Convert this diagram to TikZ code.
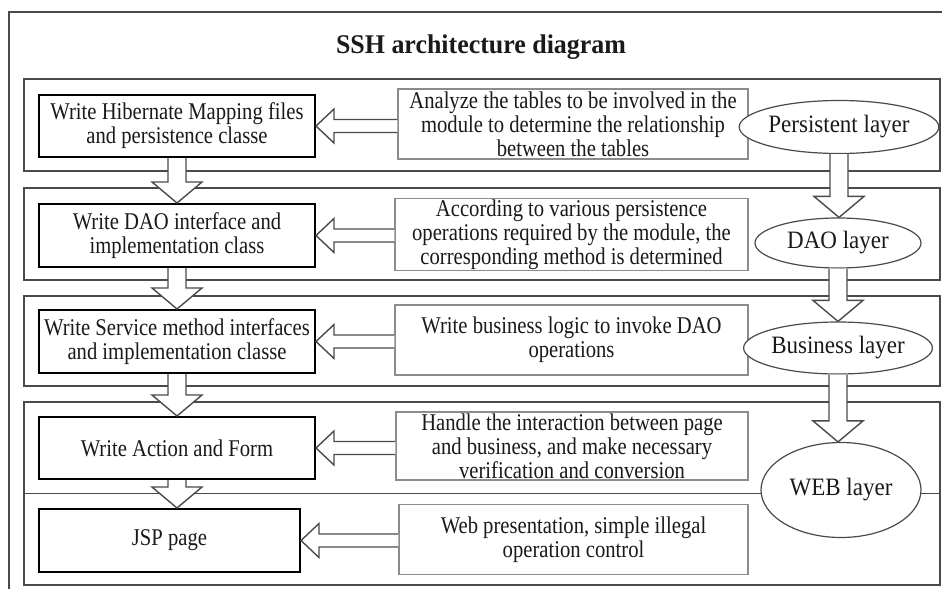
\documentclass[tikz,border=0pt]{standalone}
\usepackage{fontspec}
\setmainfont{Liberation Serif}
\newfontfamily\bodyserif[FakeStretch=0.86]{Liberation Serif}
\newfontfamily\layerserif[FakeStretch=0.92]{Liberation Serif}
\newfontfamily\titleserif[FakeStretch=0.96]{Liberation Serif}
\usetikzlibrary{calc,shapes.geometric}

\definecolor{bandline}{HTML}{4A4A4A}
\definecolor{noteline}{HTML}{8C8C8C}
\definecolor{inktext}{HTML}{1A1A1A}

\tikzset{
  bandbox/.style={draw=bandline, line width=1.6pt, minimum width=916pt, inner sep=0pt},
  stepbox/.style={draw=black, line width=2pt, fill=white, align=center, inner sep=1pt,
    text=inktext, font=\bodyserif\fontsize{24}{24}\selectfont},
  notebox/.style={draw=noteline, line width=1.1pt, fill=white, align=center, inner sep=1pt,
    minimum height=70pt, text=inktext, font=\bodyserif\fontsize{24}{24}\selectfont},
  layer/.style={ellipse, draw=bandline, line width=1.2pt, fill=white, inner sep=0pt,
    text=inktext, font=\layerserif\fontsize{25}{26}\selectfont},
  fatarrow/.style={draw=bandline, line width=1.4pt, fill=white, line join=miter},
}

% hollow block arrow pointing down, from anchor #1 to anchor #2
\newcommand\vfat[2]{%
  \draw[fatarrow] let \p1=(#1), \p2=(#2) in
    (\x1-9pt,\y1) -- (\x1-9pt,\y2+21pt) -- (\x1-25pt,\y2+21pt) -- (\x1,\y2)
    -- (\x1+25pt,\y2+21pt) -- (\x1+9pt,\y2+21pt) -- (\x1+9pt,\y1);}
% hollow block arrow pointing left, from anchor #1 to anchor #2
\newcommand\hfat[2]{%
  \draw[fatarrow] let \p1=(#1), \p2=(#2) in
    (\x1,\y2+6.5pt) -- (\x2+18pt,\y2+6.5pt) -- (\x2+18pt,\y2+17pt) -- (\x2,\y2)
    -- (\x2+18pt,\y2-17pt) -- (\x2+18pt,\y2-6.5pt) -- (\x1,\y2-6.5pt);}

\begin{document}
\begin{tikzpicture}[x=1pt,y=-1pt]
\useasboundingbox (0,0) rectangle (942,589);

% outer frame
\draw[draw=bandline, line width=1.6pt] (942,12) -- (9,12) -- (9,589);

\node[anchor=base, text=inktext, font=\titleserif\bfseries\fontsize{27}{30}\selectfont]
  (title) at (481,53) {SSH architecture diagram};

% layer bands
\node[bandbox, minimum height=92pt] (L1) at (482,125) {};
\node[bandbox, minimum height=92pt] (L2) at (482,234) {};
\node[bandbox, minimum height=90pt] (L3) at (482,341) {};
\node[bandbox, minimum height=183pt] (L4) at (482,493.5) {};
\draw[draw=bandline, line width=1.6pt] (L4.west) -- (L4.east);

% development steps
\node[stepbox, minimum width=276pt, minimum height=62pt] (A1) at (177,126)
  {Write Hibernate Mapping files\\and persistence classe};
\node[stepbox, minimum width=276pt, minimum height=63pt] (A2) at (177,235.5)
  {Write DAO interface and\\implementation class};
\node[stepbox, minimum width=276pt, minimum height=63pt] (A3) at (177,341.5)
  {Write Service method interfaces\\and implementation classe};
\node[stepbox, minimum width=276pt, minimum height=62pt] (A4) at (177,448)
  {Write Action and Form};
\node[stepbox, minimum width=261pt, minimum height=63pt] (A5) at (169.5,540.5)
  {JSP page};

% notes
\node[notebox, minimum width=350pt] (B1) at (573,124)
  {Analyze the tables to be involved in the\\module to determine the relationship\\between the tables};
\node[notebox, minimum width=353pt] (B2) at (571.5,234.5)
  {According to various persistence\\operations required by the module, the\\corresponding method is determined};
\node[notebox, minimum width=353pt] (B3) at (571.5,340)
  {Write business logic to invoke DAO\\operations};
\node[notebox, minimum width=352pt, minimum height=68pt] (B4) at (572,446)
  {Handle the interaction between page\\and business, and make necessary\\verification and conversion};
\node[notebox, minimum width=349pt] (B5) at (573.5,539.5)
  {Web presentation, simple illegal\\operation control};

% layers
\node[layer, minimum width=166pt, minimum height=53pt] (E1) at (839,127) {Persistent layer};
\node[layer, minimum width=166pt, minimum height=50pt] (E2) at (838,243) {DAO layer};
\node[layer, minimum width=166pt, minimum height=52pt] (E3) at (838,348) {Business layer};
\node[layer, minimum width=160pt, minimum height=95pt] (E4) at (841,490) {WEB layer};

% flow between steps
\vfat{A1.south}{A2.north}
\vfat{A2.south}{A3.north}
\vfat{A3.south}{A4.north}
\vfat{A4.south}{A4.south |- A5.north}

% notes feed the steps
\hfat{B1.west}{A1.east}
\hfat{B2.west}{A2.east}
\hfat{B3.west}{A3.east}
\hfat{B4.west}{A4.east}
\hfat{B5.west}{A5.east}

% flow between layers
\vfat{E1.south}{E2.north}
\vfat{E2.south}{E3.north}
\vfat{E3.south}{E3.south |- E4.north}
\end{tikzpicture}
\end{document}
